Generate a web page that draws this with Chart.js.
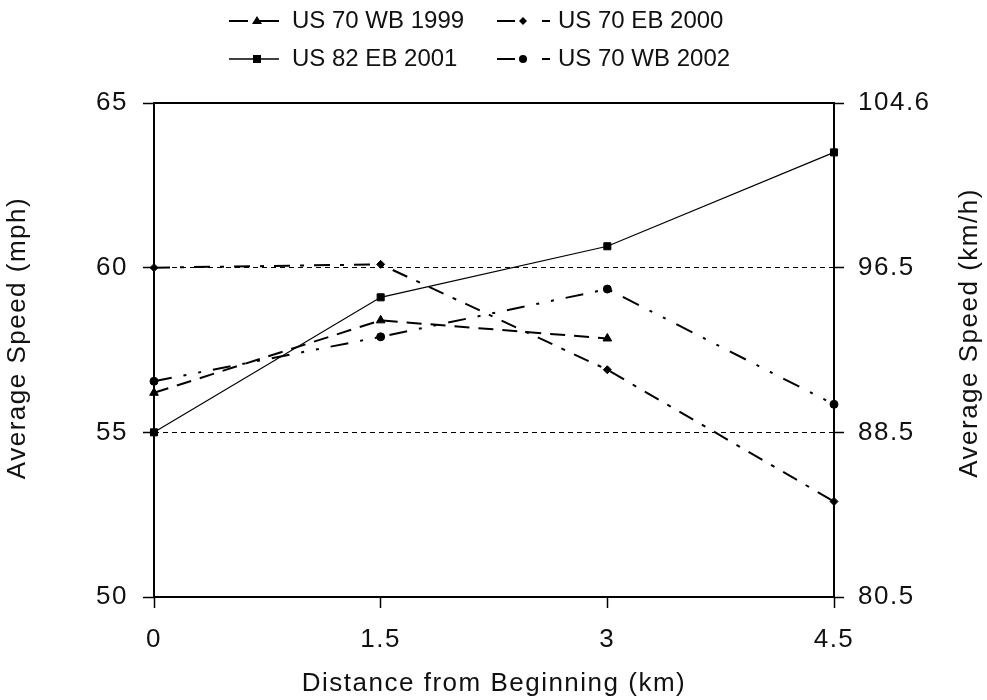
<!DOCTYPE html>
<html>
<head>
<meta charset="utf-8">
<script src="https://cdn.jsdelivr.net/npm/chart.js@4/dist/chart.umd.min.js"></script>
<style>
  html, body { margin: 0; padding: 0; background: #fff; }
  #wrap { position: relative; width: 987px; height: 700px; }
  #c { position: absolute; left: 0; top: 0; }
  .lg { position: absolute; font-family: "Liberation Sans", Arial, sans-serif; font-size: 24px; line-height: 28px; color: #111; white-space: nowrap; }
  #lgsvg { position: absolute; left: 0; top: 0; }
</style>
</head>
<body>
<div id="wrap">
  <canvas id="c" width="987" height="700"></canvas>
  <svg id="lgsvg" width="987" height="80"></svg>
</div>
<script>
// ---- data ----
const distances = [0, 1.5, 3, 4.5];
const seriesNames = ['US 70 WB 1999', 'US 70 EB 2000', 'US 82 EB 2001', 'US 70 WB 2002'];
const wb1999 = [56.2, 58.4, 57.85];
const eb2000 = [60.0, 60.1, 56.9, 52.9];
const eb2001 = [55.0, 59.1, 60.65, 63.5];
const wb2002 = [56.55, 57.9, 59.35, 55.85];
const mphTicks = [50, 55, 60, 65];
const kmhTickLabels = ['80.5', '88.5', '96.5', '104.6'];
const xTicks = [0, 1.5, 3, 4.5];
const xTitle = 'Distance from Beginning (km)';
const yTitle = 'Average Speed (mph)';
const y2Title = 'Average Speed (km/h)';

const pts = (vals) => vals.map((v, i) => ({x: distances[i], y: v}));

const FONT = '"Liberation Sans", Arial, sans-serif';
const TXT = '#111';

const styles = [
  {dash: [15, 9], width: 2, point: 'triangle', r: 5},
  {dash: [16, 10, 4, 10], width: 2, point: 'rectRot', r: 4},
  {dash: [], width: 1.2, point: 'rect', r: 5},
  {dash: [18, 12, 3, 12, 3, 12], width: 2, point: 'circle', r: 4}
];
const seriesData = [wb1999, eb2000, eb2001, wb2002];

const datasets = seriesData.map((d, i) => ({
  label: seriesNames[i],
  data: pts(d),
  borderColor: '#000',
  backgroundColor: '#000',
  borderWidth: styles[i].width,
  borderDash: styles[i].dash,
  pointStyle: styles[i].point,
  pointRadius: styles[i].r,
  pointBorderWidth: 1,
  pointBackgroundColor: '#000',
  pointBorderColor: '#000',
  tension: 0,
  fill: false,
  clip: false
}));

const spacingPlugin = {
  id: 'spacing',
  beforeLayout(chart) { chart.ctx.letterSpacing = '1.5px'; },
  beforeDraw(chart) { chart.ctx.letterSpacing = '1.5px'; }
};

const framePlugin = {
  id: 'frame',
  beforeDatasetsDraw(chart) {
    const {ctx, chartArea: a} = chart;
    ctx.save();
    ctx.strokeStyle = '#000';
    ctx.lineWidth = 2;
    ctx.setLineDash([]);
    ctx.strokeRect(a.left, a.top, a.right - a.left, a.bottom - a.top);
    ctx.restore();
  },
  afterDraw(chart) {
    const ctx = chart.ctx;
    [[yTitle, 18, 338], [y2Title, 970, 333]].forEach(([t, x, y]) => {
      ctx.save();
      ctx.letterSpacing = '1.5px';
      ctx.fillStyle = TXT;
      ctx.font = '26px ' + FONT;
      ctx.textAlign = 'center';
      ctx.textBaseline = 'middle';
      ctx.translate(x, y);
      ctx.rotate(-Math.PI / 2);
      ctx.fillText(t, 0, 0);
      ctx.restore();
    });
  }
};

const tickFont = {family: FONT, size: 26};

new Chart(document.getElementById('c'), {
  type: 'line',
  data: {datasets},
  options: {
    responsive: false,
    animation: false,
    devicePixelRatio: 1,
    layout: {padding: {top: 103, left: 0, right: 0, bottom: 0}},
    plugins: {legend: {display: false}, tooltip: {enabled: false}},
    scales: {
      x: {
        type: 'linear', min: 0, max: 4.5, position: 'bottom',
        afterBuildTicks: (s) => { s.ticks = xTicks.map(v => ({value: v})); },
        afterFit: (s) => { s.height = 103; },
        grid: {display: true, drawOnChartArea: false, drawTicks: true, tickLength: 11, tickColor: '#000', tickWidth: 1.5},
        border: {display: false},
        ticks: {font: tickFont, color: TXT, padding: 16, maxRotation: 0, autoSkip: false,
          callback: (v) => String(v)},
        title: {display: true, text: xTitle, font: tickFont, color: TXT, padding: {top: 0, bottom: 1}}
      },
      y: {
        type: 'linear', min: 50, max: 65, position: 'left',
        afterBuildTicks: (s) => { s.ticks = mphTicks.map(v => ({value: v})); },
        afterFit: (s) => { s.width = 154; },
        grid: {
          display: true, drawOnChartArea: true, drawTicks: true, tickLength: 11,
          color: (c) => (c.tick && (c.tick.value === 55 || c.tick.value === 60)) ? '#000' : 'rgba(0,0,0,0)',
          lineWidth: 1, tickColor: '#000', tickWidth: 1.5
        },
        border: {display: false, dash: [5, 4]},
        ticks: {font: tickFont, color: TXT, padding: 15, autoSkip: false, callback: (v) => String(v)}
      },
      y2: {
        type: 'linear', min: 50, max: 65, position: 'right',
        afterBuildTicks: (s) => { s.ticks = mphTicks.map(v => ({value: v})); },
        afterFit: (s) => { s.width = 153; },
        grid: {display: true, drawOnChartArea: false, drawTicks: true, tickLength: 10, tickColor: '#000', tickWidth: 1.5},
        border: {display: false},
        ticks: {font: tickFont, color: TXT, padding: 14, autoSkip: false,
          callback: (v) => kmhTickLabels[mphTicks.indexOf(v)]}
      }
    }
  },
  plugins: [spacingPlugin, framePlugin]
});

// ---- HTML legend ----
const wrap = document.getElementById('wrap');
const svg = document.getElementById('lgsvg');
const NS = 'http://www.w3.org/2000/svg';
const legendCols = [{lineL: 229, lineR: 279, mark: 257, text: 292}, {lineL: 497, lineR: 550, mark: 523, text: 558}];
const legendRows = [21, 59];
const legendOrder = [0, 1, 2, 3];
function addLine(x1, x2, y, w) {
  const l = document.createElementNS(NS, 'line');
  l.setAttribute('x1', x1); l.setAttribute('x2', x2);
  l.setAttribute('y1', y); l.setAttribute('y2', y);
  l.setAttribute('stroke', '#000'); l.setAttribute('stroke-width', w);
  svg.appendChild(l);
}
function addMarker(kind, x, y) {
  let el;
  if (kind === 'triangle') {
    el = document.createElementNS(NS, 'polygon');
    el.setAttribute('points', `${x-5},${y+3} ${x+5},${y+3} ${x},${y-5}`);
  } else if (kind === 'rectRot') {
    el = document.createElementNS(NS, 'polygon');
    el.setAttribute('points', `${x-4},${y} ${x},${y-4} ${x+4},${y} ${x},${y+4}`);
  } else if (kind === 'rect') {
    el = document.createElementNS(NS, 'rect');
    el.setAttribute('x', x - 4); el.setAttribute('y', y - 4);
    el.setAttribute('width', 8); el.setAttribute('height', 8);
  } else {
    el = document.createElementNS(NS, 'circle');
    el.setAttribute('cx', x); el.setAttribute('cy', y); el.setAttribute('r', 4);
  }
  el.setAttribute('fill', '#000');
  svg.appendChild(el);
}
legendOrder.forEach((si, k) => {
  const col = legendCols[k % 2];
  const y = legendRows[Math.floor(k / 2)];
  const st = styles[si];
  if (si === 1 || si === 3) {
    addLine(col.lineL, col.mark - 8, y, 2);
    addLine(col.lineR - 8, col.lineR, y, 2);
  } else if (si === 0) {
    addLine(col.lineL, col.mark - 9, y, 2);
    addLine(col.mark - 2, col.lineR, y, 2);
  } else {
    addLine(col.lineL, col.lineR, y, 1.5);
  }
  addMarker(st.point, col.mark, y);
  const d = document.createElement('div');
  d.className = 'lg';
  d.textContent = seriesNames[si];
  d.style.left = col.text + 'px';
  d.style.top = (y - 15) + 'px';
  wrap.appendChild(d);
});
</script>
</body>
</html>
